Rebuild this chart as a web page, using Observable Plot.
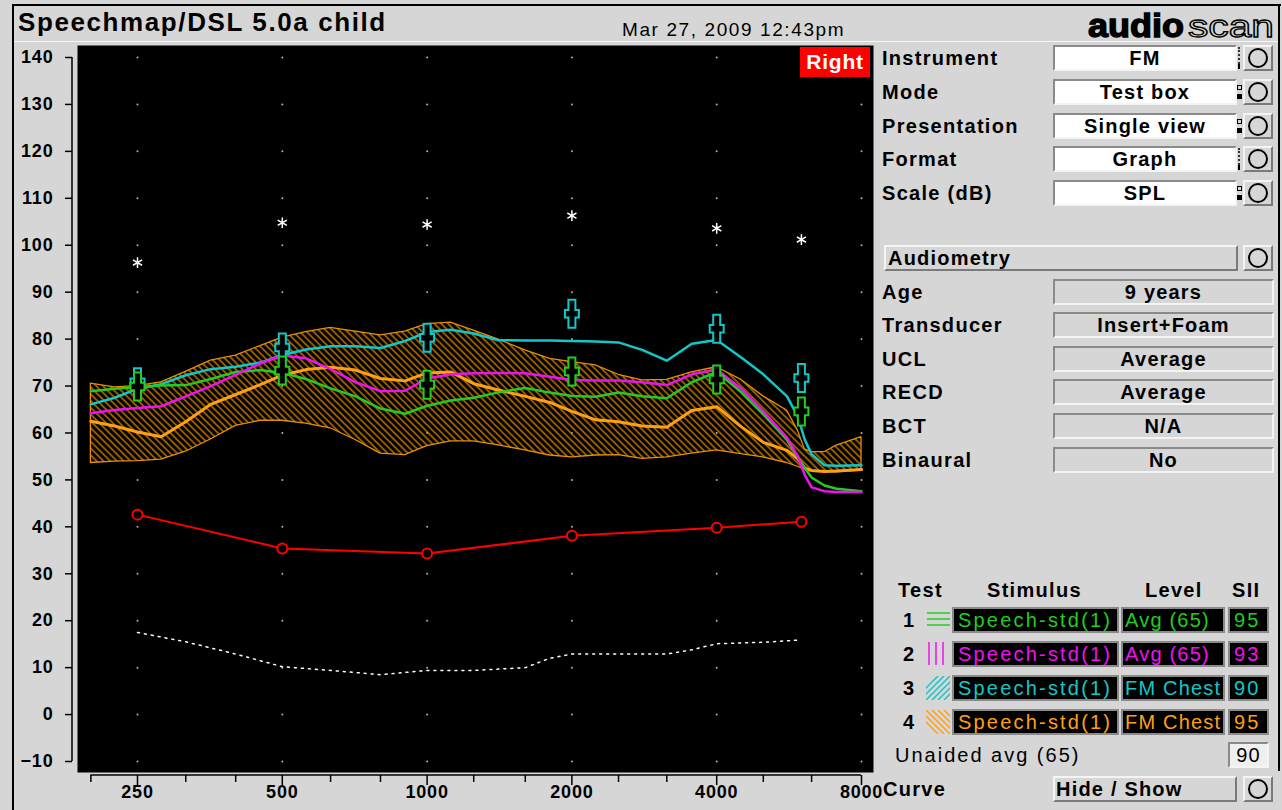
<!DOCTYPE html>
<html>
<head>
<meta charset="utf-8">
<script src="https://cdn.jsdelivr.net/npm/d3@7"></script>
<script src="https://cdn.jsdelivr.net/npm/@observablehq/plot@0.6"></script>
<style>
html,body{margin:0;padding:0;background:#d6d6d6;}
#page{position:relative;width:1282px;height:810px;background:#d6d6d6;overflow:hidden;font-family:"Liberation Sans",Arial,Helvetica,sans-serif;color:#000;}
.abs{position:absolute;white-space:nowrap;}
.lbl{font-weight:bold;font-size:20px;letter-spacing:1.3px;height:26px;line-height:26px;}
.box{box-sizing:border-box;height:26px;line-height:22px;text-align:center;font-weight:bold;font-size:20px;letter-spacing:1.2px;border:2px solid;}
.sunken{border-color:#8a8a8a #f4f4f4 #f4f4f4 #8a8a8a;}
.raised{border-color:#f4f4f4 #7a7a7a #7a7a7a #f4f4f4;}
.btn{box-sizing:border-box;width:30px;height:26px;border:2px solid;border-color:#f4f4f4 #7a7a7a #7a7a7a #f4f4f4;background:#d6d6d6;}
.btn::after{content:"";position:absolute;left:3px;top:1px;width:16px;height:16px;border:2px solid #000;border-radius:50%;}
.lg{box-sizing:border-box;height:26px;line-height:22px;background:#000;border:2px solid #8a8a8a;font-size:20px;letter-spacing:2.2px;overflow:hidden;padding-left:4px;}
</style>
</head>
<body>
<div id="page"></div>
<script>
// ---------------- DATA ----------------
const freqs   = [200,224,250,280,315,355,400,450,500,560,630,710,800,900,1000,1120,1250,1400,1600,1800,2000,2240,2500,2800,3150,3550,4000,4500,5000,5600,5900,6100,6300,6700,7100,8000];
const bandHi  = [70.5,69.7,70.0,70.8,73.0,75.4,76.5,78.5,80.3,81.5,82.4,81.6,80.8,81.6,83.2,83.5,81.8,80.0,77.6,75.8,75.1,74.4,72.4,71.2,71.3,72.9,74.0,71.3,67.8,64.8,60.5,56.5,55.9,55.9,57.3,59.1];
const bandLo  = [53.6,53.9,54.0,54.3,56.0,58.6,61.5,62.6,62.6,62.0,61.0,58.5,55.6,55.3,57.2,58.2,58.2,57.4,56.3,55.2,54.8,55.2,55.3,54.5,54.8,55.6,56.3,55.5,54.8,53.6,52.8,52.2,51.9,51.7,51.6,52.0];
const test4   = [62.5,61.5,60.2,59.2,62.4,66.1,68.2,70.3,72.3,73.5,74.0,73.4,71.6,71.1,72.8,73.0,70.5,69.2,67.8,66.5,64.6,62.8,62.4,61.5,61.2,64.8,65.6,61.3,58.0,56.3,54.5,52.5,52.0,51.8,51.9,52.2];
const test3   = [66.1,67.5,69.4,70.4,72.3,73.6,74.1,75.0,76.6,77.8,78.5,78.5,78.1,79.6,81.5,82.0,81.2,79.8,79.7,79.7,79.6,79.5,79.3,77.7,75.4,79.0,79.8,76.1,72.5,67.8,63.5,58.5,55.5,53.1,53.0,53.1];
const test2   = [64.2,64.9,65.3,65.7,67.8,70.0,72.4,74.8,76.5,75.9,73.6,70.8,68.9,69.0,71.6,72.5,72.7,72.8,72.7,72.0,71.3,71.2,71.2,70.8,70.2,72.5,73.5,69.4,64.6,59.0,55.0,51.0,48.4,47.6,47.4,47.4];
const test1   = [68.9,69.4,69.8,70.1,70.2,71.5,73.0,73.4,72.8,71.5,69.5,67.8,65.2,64.1,65.8,66.9,67.5,68.6,69.6,68.6,67.9,67.7,68.6,67.8,67.4,70.8,73.0,68.7,64.0,58.5,54.8,52.5,50.5,48.8,48.1,47.6];

const audFreqs   = [250,500,1000,2000,4000,6000];
const thresholds = [42.6,35.4,34.3,38.1,39.8,41.1];
const ucl        = [96.3,104.8,104.4,106.3,103.6,101.2];
const target3    = [70.8,78.2,80.3,85.4,82.2,71.7];
const target1    = [69.9,73.3,70.3,73.1,71.4,64.6];

const normFreqs  = [250,315,400,500,630,800,1000,1250,1600,1800,2000,2500,3150,3550,4000,5000,6000];
const normLevels = [17.5,15.5,12.9,10.2,9.4,8.5,9.4,9.4,10.0,12.0,12.9,12.9,12.9,13.8,15.1,15.4,15.9];

const majorTicks = [250,500,1000,2000,4000,8000];
const minorTicks = [200,315,400,630,800,1250,1600,2500,3150,5000,6300];
const dbTicks    = d3.range(-10,141,10);

const settingLabels = ["Instrument","Mode","Presentation","Format","Scale (dB)"];
const settingValues = ["FM","Test box","Single view","Graph","SPL"];
const settingMarks  = ["a","b","b","a","b"];
const audLabels = ["Age","Transducer","UCL","RECD","BCT","Binaural"];
const audValues = ["9 years","Insert+Foam","Average","Average","N/A","No"];

const testNums    = ["1","2","3","4"];
const testColors  = ["#22cc22","#f010f0","#10c8c8","#ffa010"];
const testStimuli = ["Speech-std(1)","Speech-std(1)","Speech-std(1)","Speech-std(1)"];
const testLevels  = ["Avg (65)","Avg (65)","FM Chest","FM Chest"];
const testSII     = ["95","93","90","95"];
const testSwatch  = ["h","v","f","b"];
const unaidedSII  = "90";

// ---------------- PAGE CHROME ----------------
const page = document.getElementById("page");
function add(html){ page.insertAdjacentHTML("beforeend", html); }

add(`<div class="abs" style="left:12px;top:4px;width:1269px;height:2px;background:#000"></div>`);
add(`<div class="abs" style="left:12px;top:4px;width:2px;height:806px;background:#000"></div>`);
add(`<div class="abs" style="left:1278px;top:4px;width:2px;height:767px;background:#000"></div>`);
add(`<div class="abs" style="left:14px;top:41px;width:1264px;height:1px;background:#f6f6f6"></div>`);
add(`<div class="abs" style="left:18px;top:9px;font-weight:bold;font-size:26px;line-height:26px;letter-spacing:1.6px">Speechmap/DSL 5.0a child</div>`);
add(`<div class="abs" style="left:622px;top:20px;font-size:19px;line-height:19px;letter-spacing:1.6px">Mar 27, 2009 12:43pm</div>`);
add(`<svg class="abs" style="left:1084px;top:6px" width="194" height="40">
  <text x="4" y="31" font-family="Liberation Sans, Arial" font-weight="bold" font-size="34" stroke="#000" stroke-width="1.4" textLength="96" lengthAdjust="spacingAndGlyphs">audio</text>
  <text x="104" y="31" font-family="Liberation Sans, Arial" font-weight="normal" font-size="32" fill="#d6d6d6" stroke="#000" stroke-width="1.3" textLength="86" lengthAdjust="spacingAndGlyphs">scan</text>
</svg>`);

// settings rows
const setY = [58,92,126,159,193];
settingLabels.forEach((l,i)=>{
  const t = setY[i]-13;
  add(`<div class="abs lbl" style="left:882px;top:${t}px">${l}</div>`);
  add(`<div class="abs box sunken" style="left:1053px;top:${t}px;width:184px;background:#fff">${settingValues[i]}</div>`);
  if (settingMarks[i]==="a") {
    add(`<div class="abs" style="left:1238px;top:${t+2}px;width:0;height:17px;border-left:2px dotted #333"></div>`);
    add(`<div class="abs" style="left:1238px;top:${t+19}px;width:2px;height:5px;background:#000"></div>`);
  } else {
    add(`<div class="abs" style="left:1237px;top:${t+6}px;width:3px;height:3px;border:1px solid #000"></div>`);
    add(`<div class="abs" style="left:1237px;top:${t+15}px;width:5px;height:5px;background:#000"></div>`);
  }
  add(`<div class="abs btn" style="left:1243px;top:${t}px"></div>`);
});

// audiometry
add(`<div class="abs box raised" style="left:884px;top:245px;width:354px;text-align:left;padding-left:2px;background:#d6d6d6">Audiometry</div>`);
add(`<div class="abs btn" style="left:1243px;top:245px"></div>`);
const audY = [292,325,359,392,426,460];
audLabels.forEach((l,i)=>{
  const t = audY[i]-13;
  add(`<div class="abs lbl" style="left:882px;top:${t}px">${l}</div>`);
  add(`<div class="abs box sunken" style="left:1053px;top:${t}px;width:221px;background:#d6d6d6">${audValues[i]}</div>`);
});

// legend table
add(`<div class="abs lbl" style="left:898px;top:577px">Test</div>`);
add(`<div class="abs lbl" style="left:987px;top:577px">Stimulus</div>`);
add(`<div class="abs lbl" style="left:1145px;top:577px">Level</div>`);
add(`<div class="abs lbl" style="left:1232px;top:577px">SII</div>`);
function swatchSVG(kind, c){
  let s = "";
  if (kind==="h") s = [5,11,17].map(y=>`<line x1="1" x2="24" y1="${y}" y2="${y}"/>`).join("");
  if (kind==="v") s = [3,10,17].map(x=>`<line x1="${x}" x2="${x}" y1="0" y2="23"/>`).join("");
  if (kind==="f") s = [-12,-6,0,6,12,18].map(o=>`<line x1="${o}" y1="24" x2="${o+24}" y2="0"/>`).join("");
  if (kind==="b") s = [-12,-6,0,6,12,18].map(o=>`<line x1="${o}" y1="0" x2="${o+24}" y2="24"/>`).join("");
  return `<svg class="abs" width="24" height="24" style="overflow:hidden"><defs><clipPath id="cp${kind}"><rect width="24" height="24"/></clipPath></defs><g clip-path="url(#cp${kind})" stroke="${c}" stroke-width="1.5">${s}</g></svg>`;
}
const rowY = [620,654,688,722];
testNums.forEach((n,i)=>{
  const t = rowY[i]-13, c = testColors[i];
  add(`<div class="abs lbl" style="left:903px;top:${t}px">${n}</div>`);
  add(`<div class="abs" style="left:926px;top:${t+1}px;width:24px;height:24px">${swatchSVG(testSwatch[i], c)}</div>`);
  add(`<div class="abs lg" style="left:952px;top:${t}px;width:167px;color:${c}">${testStimuli[i]}</div>`);
  add(`<div class="abs lg" style="left:1121px;top:${t}px;width:104px;color:${c};padding-left:2px;letter-spacing:1.2px">${testLevels[i]}</div>`);
  add(`<div class="abs lg" style="left:1228px;top:${t}px;width:41px;color:${c}">${testSII[i]}</div>`);
});
add(`<div class="abs" style="left:895px;top:742px;font-size:20px;line-height:26px;letter-spacing:2px">Unaided avg (65)</div>`);
add(`<div class="abs box sunken" style="left:1228px;top:742px;width:41px;background:#efefef;font-weight:normal">${unaidedSII}</div>`);
add(`<div class="abs lbl" style="left:883px;top:776px">Curve</div>`);
add(`<div class="abs box raised" style="left:1053px;top:776px;width:184px;text-align:left;padding-left:1px;background:#d6d6d6">Hide / Show</div>`);
add(`<div class="abs btn" style="left:1243px;top:776px"></div>`);

// ---------------- CHART ----------------
const rows = freqs.map((f,i)=>({f, hi:bandHi[i], lo:bandLo[i], t1:test1[i], t2:test2[i], t3:test3[i], t4:test4[i]}));
const aud  = audFreqs.map((f,i)=>({f, thr:thresholds[i], ucl:ucl[i], tg3:target3[i], tg1:target1[i]}));
const norm = normFreqs.map((f,i)=>({f, db:normLevels[i]}));
const grid = majorTicks.flatMap(f=>dbTicks.map(db=>({f, db})));

const plusOutline = {draw(ctx){ const H=14,a=3.5,b=7,c=3.8;
  ctx.moveTo(-a,-H); ctx.lineTo(a,-H); ctx.lineTo(a,-c); ctx.lineTo(b,-c); ctx.lineTo(b,c); ctx.lineTo(a,c);
  ctx.lineTo(a,H); ctx.lineTo(-a,H); ctx.lineTo(-a,c); ctx.lineTo(-b,c); ctx.lineTo(-b,-c); ctx.lineTo(-a,-c); ctx.closePath(); }};
const plusInner = {draw(ctx){ ctx.moveTo(0,-9); ctx.lineTo(0,9); ctx.moveTo(-4.5,0); ctx.lineTo(4.5,0); }};

function axisLines(index, scales, values, dims){
  const g = d3.create("svg:g").attr("stroke","#000").attr("stroke-width",1.5);
  const xl = dims.marginLeft - 5;
  g.append("line").attr("x1",xl).attr("x2",xl).attr("y1",scales.y(-10)).attr("y2",scales.y(140));
  const yb = dims.height - dims.marginBottom + 3;
  g.append("line").attr("x1",scales.x(200)).attr("x2",scales.x(8000)).attr("y1",yb).attr("y2",yb);
  return g.node();
}

const chart = Plot.plot({
  width: 880, height: 770,
  marginLeft: 77, marginRight: 7, marginTop: 5, marginBottom: 38,
  x: {type:"log", domain:[250,8000], insetLeft:60, insetRight:12, label:null},
  y: {domain:[-10,140], insetTop:12, insetBottom:11, label:null},
  style: {background:"transparent", fontFamily:"Liberation Sans, Arial, sans-serif", fontSize:"18px", fontWeight:"bold", color:"#000", overflow:"visible", letterSpacing:"0.8px"},
  marks: [
    Plot.frame({fill:"#000"}),
    Plot.dot(grid, {x:"f", y:"db", r:1, fill:"#b0b0b0"}),
    Plot.line(norm, {x:"f", y:"db", stroke:"#fff", strokeWidth:1.5, strokeDasharray:"2,5"}),
    Plot.areaY(rows, {x:"f", y1:"lo", y2:"hi", fill:"url(#hatch)", stroke:"#e89000", strokeWidth:1.3}),
    Plot.line(rows, {x:"f", y:"t4", stroke:testColors[3], strokeWidth:3}),
    Plot.line(rows, {x:"f", y:"t3", stroke:testColors[2], strokeWidth:2.5}),
    Plot.line(rows, {x:"f", y:"t1", stroke:testColors[0], strokeWidth:2.5}),
    Plot.line(rows, {x:"f", y:"t2", stroke:testColors[1], strokeWidth:2.5}),
    Plot.line(aud, {x:"f", y:"thr", stroke:"#ff0000", strokeWidth:2}),
    Plot.dot(aud, {x:"f", y:"thr", r:5, stroke:"#ff0000", strokeWidth:2, fill:"#000"}),
    Plot.dot(aud, {x:"f", y:"ucl", symbol:"asterisk", r:5, stroke:"#fff", strokeWidth:1.5}),
    Plot.dot(aud, {x:"f", y:"tg3", symbol:plusOutline, r:10, fill:"#000", stroke:testColors[2], strokeWidth:2}),
    Plot.dot(aud, {x:"f", y:"tg3", symbol:plusInner, r:10, fill:"none", stroke:"#000", strokeWidth:1}),
    Plot.dot(aud, {x:"f", y:"tg1", symbol:plusOutline, r:10, fill:"#000", stroke:testColors[0], strokeWidth:2}),
    Plot.dot(aud, {x:"f", y:"tg1", symbol:plusInner, r:10, fill:"none", stroke:"#000", strokeWidth:1}),
    Plot.axisY({ticks:dbTicks, tickSize:7, tickPadding:12, dx:-5, strokeWidth:1.5}),
    Plot.axisX({ticks:majorTicks, tickSize:10, dy:3, strokeWidth:1.5, text:null}),
    Plot.axisX({ticks:minorTicks, tickSize:7, dy:3, strokeWidth:1.5, text:null}),
    Plot.text(majorTicks, {x:d=>d, text:d=>String(d), frameAnchor:"bottom", dy:25, fill:"#000"}),
    axisLines
  ]
});
const ns = "http://www.w3.org/2000/svg";
const defs = document.createElementNS(ns, "defs");
defs.innerHTML = `<pattern id="hatch" patternUnits="userSpaceOnUse" width="4.8" height="4.8" patternTransform="rotate(-45)"><line x1="1" y1="-1" x2="1" y2="6" stroke="#ee9200" stroke-width="1.2"/></pattern>`;
chart.insertBefore(defs, chart.firstChild);
const holder = document.createElement("div");
holder.className = "abs";
holder.style.left = "0px"; holder.style.top = "40px";
holder.appendChild(chart);
page.insertBefore(holder, page.firstChild);

add(`<div class="abs" style="left:800px;top:47px;width:70px;height:30px;background:#ff0000;color:#fff;font-weight:bold;font-size:21px;line-height:30px;text-align:center;letter-spacing:0.8px">Right</div>`);
</script>
</body>
</html>
